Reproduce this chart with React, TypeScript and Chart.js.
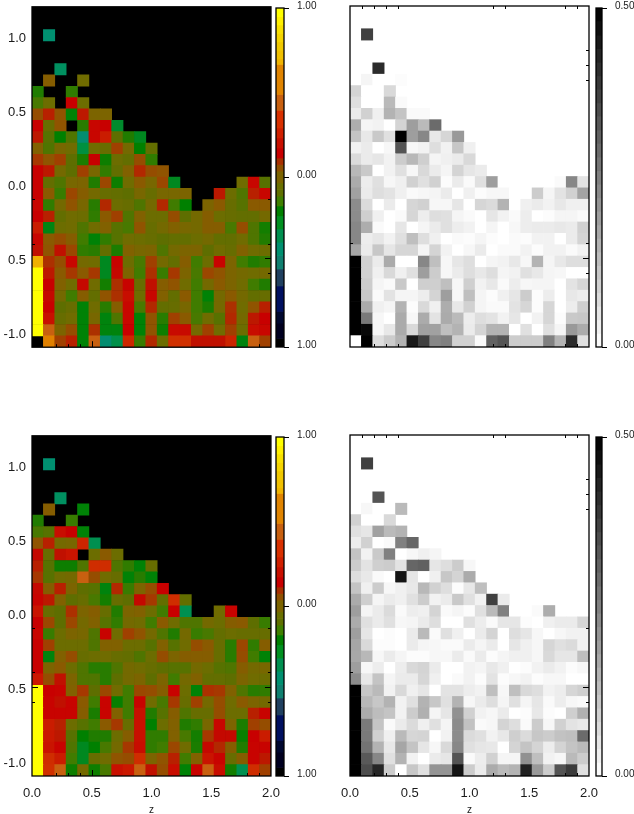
import React, { useEffect, useRef } from "react";
import { Chart, registerables } from "chart.js";

Chart.register(...registerables);

const _ = null;
const COLS = 21;
const ROWS = 30;
const Y_MIN = -1.1;
const Y_MAX = 1.2;
const X_MIN = 0;
const X_MAX = 2;

// Upper left panel: signed values in hundredths, rows from top to bottom
const colorTop: (number | null)[][] = [
  [], [],
  [_, -40],
  [], [],
  [_, _, -35],
  [_, 7, _, _, 2],
  [-10, _, _, -8],
  [-5, 1, _, 20, 1],
  [10, 16, 9, -16, 17, 5, 5],
  [20, 0, 9, _, -9, 22, 20, -22],
  [17, -3, -15, -4, -42, 22, 28, -2, -10, -20],
  [6, -4, 4, 2, -25, 2, 0, 12, 3, -15, -1],
  [13, 9, 12, -2, -11, 20, -13, 1, -1, 10, -8],
  [20, 17, 3, -2, 12, 4, -8, -1, 6, 15, 10, 9],
  [20, -1, -4, 4, 5, -10, 11, -13, 2, 8, 4, 11, -20, _, _, _, _, _, 2, 22, -3],
  [20, 8, -7, 11, 7, 3, 0, -1, -2, 4, 0, 4, 4, 5, _, _, 17, 1, -4, 16, 22],
  [22, -8, 3, 9, 4, -9, 15, 1, 0, -4, 3, 15, -6, -15, _, 5, 8, 0, -3, 8, 8],
  [20, 16, -1, 2, 1, -8, 8, 12, -4, 6, 1, 1, 10, -2, 3, 7, 1, 0, -1, -1, 3],
  [28, -18, 1, 2, -4, 2, 6, -3, -5, 9, 0, 3, 6, 4, 3, 7, 7, -5, 10, -4, -12],
  [22, 8, 10, 7, -6, -16, -8, -3, 2, 1, 0, -2, -1, -1, 1, 3, -1, -1, 2, -4, -10],
  [18, 9, 18, 11, -8, -9, -1, -11, 6, 4, 5, -4, 3, 5, 5, -2, 2, 0, 6, 2, 1],
  [72, 14, 10, 22, 3, 2, -20, 21, 1, -5, 12, 3, -1, 7, -6, 1, 21, 5, -6, -10, -8],
  [100, 17, 8, 13, 8, 13, -20, 19, 5, -6, 14, -7, 13, 5, -5, 11, 9, 5, 3, 2, 3],
  [100, 20, 6, 2, 19, 2, -12, 14, 21, 0, 18, 7, 9, 2, -6, 3, 8, 5, 2, -6, -10],
  [100, 19, 3, -6, 7, -1, 9, 14, 24, 1, 22, 6, -1, 8, -6, -16, 3, 8, 3, -1, 0],
  [100, 20, -2, 0, -16, 2, -9, 7, 22, -5, 15, -1, 0, 4, -6, -11, 3, 14, 2, 9, 16],
  [100, 25, 0, 2, -16, 4, -17, -4, 22, -16, 9, -9, 12, 8, -5, 2, -3, 15, 3, 17, 20],
  [100, 45, 5, 10, -16, 14, -17, -17, 20, -16, 9, -13, 23, 23, 3, 12, 2, 12, 1, 24, 22],
  [_, 60, 12, 16, -16, 46, -42, -28, 32, -7, 15, 1, 38, 38, 18, 18, 18, 30, -17, 46, 12],
];

// Lower left panel
const colorBottom: (number | null)[][] = [
  [], [],
  [_, -40],
  [], [],
  [_, _, -35],
  [_, 7, _, _, -16],
  [-10, _, _, -7],
  [-5, -3, 24, 20, -16],
  [9, 16, 3, 4, 30, -30],
  [19, 0, 18, 26, _, 1, 8, 1],
  [16, -3, -13, -13, -4, 36, 36, -4, -8, -16, 0],
  [13, -3, 2, 3, 45, 10, 2, 0, -16, -9, -16],
  [19, 7, 16, 5, -2, -3, -17, 15, -7, 5, 10, 20],
  [21, 17, 6, -2, 0, -5, -12, 0, -2, 19, 13, -1, 36, -1],
  [26, 0, -2, 14, 5, 7, 0, -10, 5, 6, 1, -6, 20, -30, _, _, 2, 21],
  [20, 11, -2, 11, 3, 6, -3, -8, 3, 2, -6, 8, 2, -4, -4, 3, 1, 7, 8, -2, -7],
  [22, -7, 1, 5, 4, -4, 21, 2, 12, 9, 3, -4, -10, 3, -7, -5, -1, 1, 0, 0, 0],
  [20, 12, 1, 1, 1, -4, 6, 6, 1, 1, -3, 6, -3, 2, 10, 8, 0, -9, 11, -8, 7],
  [20, -17, 6, 10, 0, 1, 2, 0, -1, -4, 1, 10, 5, 7, 7, 7, 0, -9, 10, -6, -16],
  [20, 5, 8, 1, -4, -9, -9, -4, 3, 2, 0, -2, -3, -3, 3, 1, -3, -4, 7, 3, 4],
  [27, 10, 18, 5, -4, -4, -9, -2, 3, 5, -2, 5, -6, 3, 6, -1, -1, -2, 5, 2, 1],
  [100, 20, 21, 6, 13, -2, 11, 2, -6, 11, 10, 7, 21, 1, -16, 14, 13, 6, -4, -9, -8],
  [100, 21, 18, 21, 8, -6, 21, -14, -6, 21, 2, -5, 13, 0, 12, 3, 10, 2, 8, 5, 3],
  [100, 21, 21, 21, 7, -11, 21, 6, -6, 25, -10, -3, 7, -4, 0, 0, 10, 1, 1, 16, 21],
  [100, 28, 16, 1, -3, -6, 8, 13, 0, 25, -15, 1, 6, -10, -8, 4, 22, 5, -11, 12, 10],
  [100, 27, 17, -3, -15, -10, -10, 1, 7, 25, -8, -8, 6, -5, -12, 13, 19, 19, -14, 20, 28],
  [100, 26, 21, -4, -20, -15, -5, 3, 13, 24, -8, -6, 11, 2, -11, 19, 15, 7, -10, 21, 21],
  [100, 36, 28, -6, -20, 0, 2, 9, 10, 36, 5, 9, 16, -6, 6, 26, 21, 0, 7, 21, 17],
  [100, 38, 46, -13, 3, -13, -5, 25, 27, 46, 18, 10, 24, -16, 21, 46, 24, -12, -30, 36, 12],
];

// Upper right panel: percent of the 0.50 full scale
const grayTop: number[][] = [
  [], [],
  [0, 75],
  [], [],
  [0, 0, 83],
  [0, 4, 0, 0, 1],
  [17, 0, 0, 15],
  [13, 0, 0, 27, 2],
  [8, 18, 6, 30, 23, 2, 2],
  [32, 4, 5, 0, 17, 38, 27, 58],
  [23, 9, 21, 12, 100, 38, 47, 9, 16, 40],
  [5, 8, 0, 3, 67, 3, 5, 13, 5, 22, 6],
  [14, 8, 10, 5, 20, 28, 19, 4, 6, 8, 15],
  [28, 21, 0, 5, 12, 3, 15, 8, 4, 17, 10, 8],
  [33, 7, 12, 3, 6, 18, 12, 18, 1, 8, 2, 12, 38, 0, 0, 0, 0, 0, 2, 47, 11],
  [37, 8, 13, 11, 6, 2, 3, 4, 8, 0, 6, 1, 3, 3, 0, 0, 20, 4, 11, 18, 36],
  [45, 14, 0, 8, 0, 16, 18, 3, 3, 10, 0, 16, 14, 30, 0, 6, 8, 5, 9, 6, 6],
  [45, 19, 6, 0, 2, 16, 7, 13, 12, 4, 2, 0, 10, 5, 2, 7, 0, 1, 4, 4, 2],
  [47, 32, 2, 0, 10, 0, 4, 8, 12, 7, 5, 0, 4, 0, 3, 7, 8, 8, 9, 8, 18],
  [47, 7, 10, 5, 12, 25, 13, 6, 0, 2, 1, 4, 1, 0, 2, 1, 5, 5, 0, 8, 17],
  [35, 8, 22, 10, 16, 16, 4, 17, 5, 0, 3, 8, 0, 2, 2, 5, 1, 5, 5, 2, 5],
  [100, 18, 8, 33, 0, 0, 47, 25, 3, 10, 13, 0, 4, 5, 9, 3, 30, 4, 9, 13, 13],
  [100, 18, 6, 15, 6, 12, 38, 20, 3, 8, 13, 9, 13, 4, 5, 12, 9, 4, 3, 0, 0],
  [100, 20, 4, 2, 21, 0, 19, 19, 25, 3, 19, 5, 9, 2, 7, 3, 4, 4, 0, 11, 16],
  [100, 22, 2, 11, 4, 4, 7, 17, 38, 3, 25, 4, 1, 6, 10, 20, 1, 7, 0, 9, 7],
  [100, 33, 6, 4, 30, 1, 15, 6, 32, 9, 18, 4, 2, 2, 11, 16, 1, 16, 0, 7, 19],
  [100, 52, 3, 0, 33, 3, 33, 11, 33, 27, 7, 13, 11, 5, 10, 0, 5, 16, 1, 21, 22],
  [100, 97, 3, 9, 33, 15, 37, 37, 25, 30, 8, 17, 30, 30, 0, 12, 0, 12, 4, 40, 33],
  [0, 100, 13, 20, 30, 90, 75, 47, 50, 18, 18, 2, 62, 67, 20, 20, 20, 50, 30, 83, 12],
];

// Lower right panel
const grayBottom: number[][] = [
  [], [],
  [0, 75],
  [], [],
  [0, 0, 67],
  [0, 3, 0, 0, 27],
  [18, 0, 0, 15],
  [12, 10, 37, 27, 30],
  [7, 18, 0, 2, 50, 60],
  [23, 5, 21, 50, 0, 3, 6, 4],
  [20, 11, 19, 20, 11, 60, 62, 10, 13, 20, 3],
  [13, 9, 2, 0, 92, 10, 0, 6, 22, 17, 33],
  [23, 6, 20, 3, 6, 9, 28, 18, 13, 1, 9, 25],
  [33, 19, 4, 8, 6, 12, 20, 5, 8, 21, 12, 5, 75, 8],
  [38, 4, 8, 14, 2, 7, 6, 17, 2, 4, 1, 12, 27, 50, 0, 0, 2, 32],
  [33, 12, 8, 12, 3, 4, 8, 13, 0, 0, 12, 7, 2, 10, 10, 1, 0, 6, 8, 8, 16],
  [38, 10, 0, 1, 0, 8, 27, 2, 12, 6, 0, 8, 17, 0, 13, 10, 3, 0, 3, 5, 5],
  [35, 15, 1, 1, 0, 8, 4, 3, 2, 2, 8, 4, 8, 0, 10, 6, 3, 16, 12, 14, 5],
  [34, 28, 3, 8, 4, 1, 1, 3, 3, 8, 2, 8, 1, 4, 6, 6, 3, 15, 10, 10, 25],
  [38, 3, 7, 0, 7, 15, 17, 8, 0, 0, 5, 4, 9, 6, 0, 1, 5, 8, 5, 1, 3],
  [45, 9, 23, 4, 8, 8, 16, 6, 0, 2, 5, 1, 11, 1, 3, 5, 1, 3, 3, 0, 0],
  [100, 22, 27, 5, 15, 6, 10, 0, 11, 11, 7, 5, 25, 3, 25, 15, 13, 5, 7, 16, 19],
  [100, 28, 22, 30, 5, 12, 30, 22, 12, 30, 3, 8, 13, 4, 12, 4, 10, 2, 7, 3, 2],
  [100, 33, 26, 23, 5, 20, 31, 4, 10, 43, 18, 5, 3, 8, 0, 1, 9, 1, 0, 19, 31],
  [100, 52, 23, 2, 8, 14, 6, 12, 4, 45, 24, 2, 3, 17, 13, 2, 20, 3, 18, 11, 9],
  [100, 52, 18, 6, 27, 16, 17, 0, 5, 45, 14, 12, 5, 9, 19, 14, 22, 20, 24, 25, 58],
  [100, 55, 30, 9, 35, 23, 10, 3, 15, 47, 12, 10, 9, 0, 17, 23, 17, 7, 17, 23, 27],
  [100, 65, 47, 12, 30, 5, 0, 8, 10, 67, 2, 7, 18, 4, 4, 43, 25, 5, 3, 27, 20],
  [100, 70, 85, 20, 0, 22, 12, 42, 42, 92, 20, 8, 33, 27, 30, 87, 40, 20, 67, 77, 12],
];

// Axis ticks
const xTickValues = [0, 0.5, 1, 1.5, 2];
const xTickLabels = ["0.0", "0.5", "1.0", "1.5", "2.0"];
const yTickValues = [-1, -0.5, 0, 0.5, 1];
const yTickLabels = ["-1.0", "0.5", "0.0", "0.5", "1.0"];

// Tick marks left visible on the frame of each panel
const p1Bottom = [0.2, 0.3, 0.4, 0.5, 1.9];
const p1Left = [-0.1, -0.4];
const p1Right = [-0.1, -0.4, -0.5, -0.6];
const p2Top = [0.1, 0.2, 0.3, 0.4, 1.2, 1.3, 1.8, 1.9];
const p2Bottom = [0.2, 0.3, 0.4, 1.2, 1.3, 1.8, 1.9];
const p2Left = [-0.4];
const p2Right = [0.9, 0.8, 0.7, -0.4, -0.5, -0.6];
const p3Bottom = [0.2, 0.3, 0.4, 0.5, 1.8, 1.9];
const p3Left = [-0.1, -0.4, -0.5, -0.6];
const p3Right = [-0.1, -0.4, -0.5, -0.6];
const p4Top = [0.1, 0.2, 0.3, 0.4, 1.2, 1.3, 1.8, 1.9];
const p4Bottom = [0.2, 0.3, 0.4, 1.2, 1.3, 1.8, 1.9];
const p4Left = [-0.4];
const p4Right = [0.9, 0.8, 0.7, -0.1, -0.5, -0.6];

// Colour table used for the signed cells (value in hundredths, colour)
const cellStopValues = [100, 72, 66, 50, 48, 40, 38, 30, 25, 20, 16, 12, 8, 5, 2, -2, -6, -10, -15, -25, -40, -50];
const cellStopColors = [
  "#ffff00", "#f0b000", "#e08000", "#e08000", "#c86010", "#c86010", "#d03000", "#cc2400", "#c81000", "#c80000", "#b82000",
  "#a04000", "#8a5a00", "#7c6400", "#706c00", "#5e6e00", "#407c00", "#207c00", "#008000", "#009040", "#009070", "#108070",
];

// Colour bar steps (upper bound of each step, colour)
const barTops = [1, 0.95, 0.9, 0.85, 0.8, 0.75, 0.7, 0.667, 0.49, 0.396, 0.292, 0.233, 0.174, 0.115, 0.076, 0.038, -0.032, -0.071, -0.11, -0.168, -0.226, -0.304, -0.382, -0.46, -0.54, -0.64, -0.79, -0.86, -0.95];
const barColors = [
  "#ffff00", "#fff000", "#f8e000", "#f5d400", "#f0c800", "#f0c000", "#f0b400", "#e08400", "#c86010", "#d83000", "#d02000",
  "#c81000", "#c80000", "#a83000", "#905000", "#7c6400", "#6a7000", "#607000", "#408000", "#008000", "#009020", "#009050",
  "#009070", "#108070", "#204060", "#001060", "#000830", "#000020", "#000000",
];
const barBottom = -1;
const barTickValues = [-1, 0, 1];
const barTickLabels = ["1.00", "0.00", "1.00"];

const grayBarTops = [0.5, 0.48, 0.46, 0.44, 0.42, 0.4, 0.38, 0.36, 0.34, 0.32, 0.3, 0.28, 0.26, 0.24, 0.22, 0.2, 0.18, 0.16, 0.14, 0.12, 0.1, 0.08, 0.06, 0.04, 0.02];
const grayBarTickValues = [0, 0.5];
const grayBarTickLabels = ["0.00", "0.50"];

const FONT = "'Liberation Sans', sans-serif";
const INK = "#1a1a1a";

function hexRgb(h: string) {
  return [parseInt(h.slice(1, 3), 16), parseInt(h.slice(3, 5), 16), parseInt(h.slice(5, 7), 16)];
}

function signedColor(v: number) {
  if (v >= cellStopValues[0]) return cellStopColors[0];
  for (let i = 0; i < cellStopValues.length - 1; i++) {
    const a = cellStopValues[i];
    const b = cellStopValues[i + 1];
    if (v <= a && v >= b) {
      const t = (a - v) / (a - b);
      const ca = hexRgb(cellStopColors[i]);
      const cb = hexRgb(cellStopColors[i + 1]);
      const m = ca.map((c, k) => Math.round(c + (cb[k] - c) * t));
      return `rgb(${m[0]},${m[1]},${m[2]})`;
    }
  }
  return cellStopColors[cellStopColors.length - 1];
}

function grayColor(p: number) {
  const g = Math.round(255 * (1 - p / 100));
  return `rgb(${g},${g},${g})`;
}

function framePlugin(spec: { top?: number[]; bottom?: number[]; left?: number[]; right?: number[]; fill?: string }) {
  return {
    id: "frame",
    beforeDatasetsDraw(chart: any) {
      if (!spec.fill) return;
      const { ctx, chartArea: a } = chart;
      ctx.save();
      ctx.fillStyle = spec.fill;
      ctx.fillRect(a.left, a.top, a.right - a.left, a.bottom - a.top);
      ctx.restore();
    },
    afterDraw(chart: any) {
      const { ctx, chartArea: a, scales } = chart;
      ctx.save();
      ctx.strokeStyle = "#000";
      ctx.lineWidth = 1.3;
      ctx.strokeRect(a.left, a.top, a.right - a.left, a.bottom - a.top);
      ctx.lineWidth = 1;
      const size = (v: number) => (Math.abs(v * 2 - Math.round(v * 2)) < 1e-6 ? 6 : 3);
      ctx.beginPath();
      (spec.top || []).forEach((v) => {
        const x = Math.round(scales.x.getPixelForValue(v)) + 0.5;
        ctx.moveTo(x, a.top);
        ctx.lineTo(x, a.top + size(v));
      });
      (spec.bottom || []).forEach((v) => {
        const x = Math.round(scales.x.getPixelForValue(v)) + 0.5;
        ctx.moveTo(x, a.bottom);
        ctx.lineTo(x, a.bottom - size(v));
      });
      (spec.left || []).forEach((v) => {
        const y = Math.round(scales.y.getPixelForValue(v)) + 0.5;
        ctx.moveTo(a.left, y);
        ctx.lineTo(a.left + size(v), y);
      });
      (spec.right || []).forEach((v) => {
        const y = Math.round(scales.y.getPixelForValue(v)) + 0.5;
        ctx.moveTo(a.right, y);
        ctx.lineTo(a.right - size(v), y);
      });
      ctx.stroke();
      ctx.restore();
    },
  };
}

type PanelOpts = {
  canvas: HTMLCanvasElement;
  rows: (number | null)[][];
  paint: (v: number) => string;
  showY: boolean;
  showX: boolean;
  padLeft: number;
  padRight: number;
  padTop: number;
  padBottom: number;
  marks: any;
};

function makePanel(o: PanelOpts) {
  const rowH = (Y_MAX - Y_MIN) / ROWS;
  const colW = (X_MAX - X_MIN) / COLS;
  const data: any[] = [];
  const colors: string[] = [];
  o.rows.forEach((row, r) => {
    row.forEach((v, c) => {
      if (v === null || v === undefined) return;
      data.push({ x: (c + 0.5) * colW, y: [Y_MAX - (r + 1) * rowH, Y_MAX - r * rowH] });
      colors.push(o.paint(v));
    });
  });
  return new Chart(o.canvas, {
    type: "bar",
    data: { datasets: [{ data, backgroundColor: colors, borderWidth: 0, barPercentage: 1, categoryPercentage: 1, grouped: false }] as any },
    options: {
      animation: false,
      responsive: false,
      devicePixelRatio: 1,
      layout: { padding: { left: o.padLeft, right: o.padRight, top: o.padTop, bottom: o.padBottom } },
      plugins: { legend: { display: false }, tooltip: { enabled: false } },
      scales: {
        x: {
          type: "linear",
          offset: false,
          min: X_MIN,
          max: X_MAX,
          display: o.showX,
          grid: { display: false, drawTicks: false, offset: false },
          border: { display: false },
          afterBuildTicks: (s: any) => {
            s.ticks = xTickValues.map((value) => ({ value }));
          },
          afterFit: (s: any) => {
            s.height = o.showX ? 40 : 0;
          },
          ticks: {
            padding: 10,
            maxRotation: 0,
            autoSkip: false,
            color: INK,
            font: { family: FONT, size: 13 },
            callback: (v: any) => xTickLabels[xTickValues.indexOf(Number(v))] ?? "",
          },
          title: { display: o.showX, text: "z", color: INK, padding: 0, font: { family: FONT, size: 10 } },
        },
        y: {
          type: "linear",
          min: Y_MIN,
          max: Y_MAX,
          display: o.showY,
          grid: { display: false, drawTicks: false },
          border: { display: false },
          afterBuildTicks: (s: any) => {
            s.ticks = yTickValues.map((value) => ({ value }));
          },
          afterFit: (s: any) => {
            s.width = o.showY ? 32 : 0;
          },
          ticks: {
            padding: 6,
            labelOffset: 2,
            autoSkip: false,
            color: INK,
            font: { family: FONT, size: 13 },
            callback: (v: any) => yTickLabels[yTickValues.indexOf(Number(v))] ?? "",
          },
        },
      },
    } as any,
    plugins: [framePlugin(o.marks)],
  });
}

function makeBar(
  canvas: HTMLCanvasElement,
  padLeft: number,
  axisWidth: number,
  min: number,
  max: number,
  tickValues: number[],
  tickLabels: string[],
  datasets: any[],
  padding: number,
) {
  return new Chart(canvas, {
    type: "bar",
    data: { labels: ["bar"], datasets },
    options: {
      animation: false,
      responsive: false,
      devicePixelRatio: 1,
      layout: { padding: { left: padLeft, top: 0, bottom: 1 } },
      plugins: { legend: { display: false }, tooltip: { enabled: false } },
      scales: {
        x: { display: false },
        y: {
          position: "right",
          min,
          max,
          grid: { drawOnChartArea: false, tickLength: 5, tickColor: "#000", tickWidth: 1 },
          border: { display: false },
          afterBuildTicks: (s: any) => {
            s.ticks = tickValues.map((value) => ({ value }));
          },
          afterFit: (s: any) => {
            s.width = axisWidth;
          },
          ticks: {
            padding,
            labelOffset: -2,
            autoSkip: false,
            color: INK,
            font: { family: FONT, size: 10 },
            callback: (v: any) => tickLabels[tickValues.indexOf(Number(v))] ?? "",
          },
        },
      },
    } as any,
    plugins: [framePlugin({})],
  });
}

function colorBarSets() {
  return barTops.map((top, i) => ({
    data: [[i + 1 < barTops.length ? barTops[i + 1] : barBottom, top]],
    backgroundColor: barColors[i],
    borderWidth: 0,
    barPercentage: 1,
    categoryPercentage: 1,
    grouped: false,
  }));
}

function grayBarSets() {
  return grayBarTops.map((top, i) => ({
    data: [[i + 1 < grayBarTops.length ? grayBarTops[i + 1] : 0, top]],
    backgroundColor: grayColor((top / 0.5) * 100 - 2),
    borderWidth: 0,
    barPercentage: 1,
    categoryPercentage: 1,
    grouped: false,
  }));
}

const canvasBoxes = [
  { left: 0, top: -7, width: 272, height: 368 },
  { left: 349, top: 0, width: 241, height: 348 },
  { left: 0, top: 422, width: 290, height: 394 },
  { left: 330, top: 429, width: 279, height: 387 },
  { left: 270, top: -6, width: 60, height: 367 },
  { left: 590, top: -6, width: 44, height: 367 },
  { left: 270, top: 423, width: 60, height: 367 },
  { left: 590, top: 423, width: 44, height: 367 },
];

export default function App() {
  const refs = useRef<(HTMLCanvasElement | null)[]>([]);
  useEffect(() => {
    const c = refs.current as HTMLCanvasElement[];
    const charts = [
      makePanel({ canvas: c[0], rows: colorTop, paint: signedColor, showY: true, showX: false, padLeft: 0, padRight: 1, padTop: 0, padBottom: 0, marks: { bottom: p1Bottom, left: p1Left, right: p1Right, fill: "#000" } }),
      makePanel({ canvas: c[1], rows: grayTop, paint: grayColor, showY: false, showX: false, padLeft: 1, padRight: 1, padTop: 6, padBottom: 1, marks: { top: p2Top, bottom: p2Bottom, left: p2Left, right: p2Right, fill: "#fff" } }),
      makePanel({ canvas: c[2], rows: colorBottom, paint: signedColor, showY: true, showX: true, padLeft: 0, padRight: 19, padTop: 0, padBottom: 0, marks: { bottom: p3Bottom, left: p3Left, right: p3Right, fill: "#000" } }),
      makePanel({ canvas: c[3], rows: grayBottom, paint: grayColor, showY: false, showX: true, padLeft: 20, padRight: 20, padTop: 6, padBottom: 0, marks: { top: p4Top, bottom: p4Bottom, left: p4Left, right: p4Right, fill: "#fff" } }),
      makeBar(c[4], 6, 46, -1, 1, barTickValues, barTickLabels, colorBarSets(), 8),
      makeBar(c[5], 6, 32, 0, 0.5, grayBarTickValues, grayBarTickLabels, grayBarSets(), 8),
      makeBar(c[6], 6, 46, -1, 1, barTickValues, barTickLabels, colorBarSets(), 8),
      makeBar(c[7], 6, 32, 0, 0.5, grayBarTickValues, grayBarTickLabels, grayBarSets(), 8),
    ];
    return () => charts.forEach((ch) => ch.destroy());
  }, []);
  return (
    <div style={{ position: "absolute", left: 0, top: 0, width: 634, height: 814, background: "#fff", overflow: "hidden" }}>
      {canvasBoxes.map((b, i) => (
        <canvas
          key={i}
          ref={(el) => {
            refs.current[i] = el;
          }}
          width={b.width}
          height={b.height}
          style={{ position: "absolute", left: b.left, top: b.top, width: b.width, height: b.height, display: "block" }}
        />
      ))}
    </div>
  );
}
